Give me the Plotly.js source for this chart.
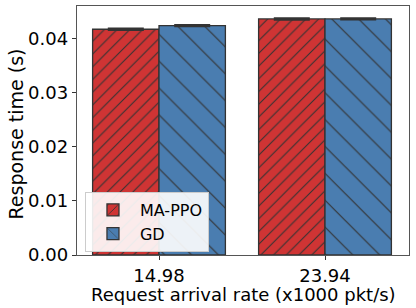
<!DOCTYPE html>
<html>
<head>
<meta charset="utf-8">
<script src="https://cdn.plot.ly/plotly-3.0.1.min.js"></script>
<style>html,body{margin:0;padding:0;background:#fff;}#chart{width:416px;height:308px;}</style>
</head>
<body>
<div id="chart"></div>
<script>
var categories = ["14.98", "23.94"];
var maPpoValues = [0.0418, 0.0437];
var maPpoErrors = [0.00003, 0.00003];
var gdValues = [0.04245, 0.0437];
var gdErrors = [0.00002, 0.00002];
var yTickVals = [0, 0.01, 0.02, 0.03, 0.04];
var yTickText = ["0.00", "0.01", "0.02", "0.03", "0.04"];
var xTitle = "Request arrival rate (x1000 pkt/s)";
var yTitle = "Response time (s)";

var font = "DejaVu Sans, sans-serif";

var traces = [
  {
    type: "bar", name: "MA-PPO", x: categories, y: maPpoValues,
    marker: {color: "#cf3434", line: {color: "#333333", width: 1.3},
             pattern: {shape: "/", size: 9, solidity: 0.12, fillmode: "overlay", bgcolor: "#cf3434", fgcolor: "#333333", fgopacity: 1}},
    error_y: {type: "data", array: maPpoErrors, visible: true, color: "#333333", thickness: 3, width: 18}
  },
  {
    type: "bar", name: "GD", x: categories, y: gdValues,
    marker: {color: "#4a7db0", line: {color: "#333333", width: 1.3},
             pattern: {shape: "\\", size: 19, solidity: 0.06, fillmode: "overlay", bgcolor: "#4a7db0", fgcolor: "#333333", fgopacity: 1}},
    error_y: {type: "data", array: gdErrors, visible: true, color: "#333333", thickness: 3, width: 18}
  }
];

var layout = {
  width: 416, height: 308,
  margin: {l: 77, r: 7, t: 6, b: 53},
  paper_bgcolor: "#ffffff", plot_bgcolor: "#ffffff",
  barmode: "group", bargap: 0.2, bargroupgap: 0,
  showlegend: true,
  font: {family: font, color: "#000000", size: 18},
  xaxis: {
    type: "category", range: [-0.494, 1.506],
    showline: true, linecolor: "#555555", linewidth: 1.2, mirror: true,
    ticks: "outside", ticklen: 4, tickcolor: "#333333",
    showgrid: false, zeroline: false,
    tickfont: {family: font, size: 18, color: "#000"}
  },
  yaxis: {
    range: [0, 0.0461],
    tickvals: yTickVals, ticktext: yTickText,
    showline: true, linecolor: "#555555", linewidth: 1.2, mirror: true,
    ticks: "outside", ticklen: 4, tickcolor: "#333333",
    showgrid: false, zeroline: false,
    tickfont: {family: font, size: 18, color: "#000"}
  },
  annotations: [
    {text: xTitle, xref: "paper", yref: "paper", x: 0.5, y: 0, xanchor: "center", yanchor: "middle",
     yshift: -39, showarrow: false, font: {family: font, size: 18, color: "#000"}},
    {text: yTitle, xref: "paper", yref: "paper", x: 0, y: 0.5, xanchor: "center", yanchor: "middle",
     xshift: -62, yshift: -4, textangle: -90, showarrow: false, font: {family: font, size: 19, color: "#000"}}
  ],
  legend: {
    x: 0.024, y: 0.253, xanchor: "left", yanchor: "top",
    bgcolor: "rgba(255,255,255,0.9)", bordercolor: "#cccccc", borderwidth: 1,
    font: {family: font, size: 16, color: "#000"},
    itemwidth: 44,
    traceorder: "normal"
  }
};

Plotly.newPlot("chart", traces, layout, {displayModeBar: false, staticPlot: true});
</script>
</body>
</html>
